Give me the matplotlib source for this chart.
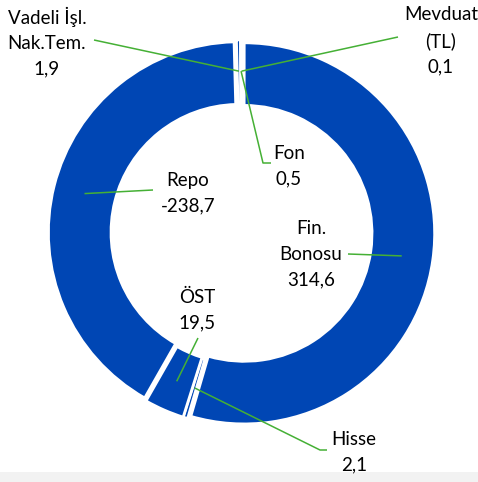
import numpy as np
import matplotlib
matplotlib.use("Agg")
import matplotlib.pyplot as plt
from matplotlib.patches import Rectangle

# ---- data (clockwise from 12 o'clock) ----
categories = ["Mevduat\n(TL)", "Fin.\nBonosu", "Hisse", "ÖST", "Repo", "Vadeli İşl.\nNak.Tem.", "Fon"]
values = [0.1, 314.6, 2.1, 19.5, -238.7, 1.9, 0.5]
value_labels = ["0,1", "314,6", "2,1", "19,5", "-238,7", "1,9", "0,5"]

W, H = 478, 482
plt.rcParams['font.family'] = ['Lato', 'DejaVu Sans']

fig = plt.figure(figsize=(W / 100, H / 100), dpi=100)
ax = fig.add_axes([0, 0, 1, 1])

# gray band at bottom
ax.add_patch(Rectangle((0, 0), W, 10, facecolor='#f2f2f2', edgecolor='none', zorder=0))

cx, cy = 241.5, H - 233
R = 190.5
ring = 0.328
expl = 2.6   # pie explode is in data units (pixels here)
blue = '#0046B4'

sizes = [abs(v) for v in values]
wedges, _ = ax.pie(sizes, startangle=90, counterclock=False, radius=R, center=(cx, cy),
                   colors=[blue] * len(sizes), explode=[expl] * len(sizes),
                   wedgeprops=dict(width=R * ring, edgecolor='white', linewidth=1.9),
                   frame=True)
ax.set_xlim(0, W)
ax.set_ylim(0, H)
ax.set_aspect('equal')
ax.axis('off')

# label positions (pixel coords, y from top) and leader elbows
label_pos = {
    0: (441, 41),
    1: (311, 254),
    2: (354, 452),
    3: (197, 310),
    4: (188, 193),
    5: (47, 42),
    6: (289, 166),
}
line_end = {
    0: [(398, 37)],
    1: [(348, 254)],
    2: [(320, 450), (327, 450)],
    3: [(198, 338)],
    4: [(153, 190)],
    5: [(94, 40)],
    6: [(263, 163), (271, 163)],
}
green = '#45B035'
for i, w in enumerate(wedges):
    th = np.deg2rad((w.theta1 + w.theta2) / 2)
    rmid = R * (1 - ring / 2)
    ax_x = w.center[0] + rmid * np.cos(th)
    ax_y = w.center[1] + rmid * np.sin(th)
    pts = [(ax_x, ax_y)] + [(x, H - y) for (x, y) in line_end[i]]
    xs, ys = zip(*pts)
    ax.plot(xs, ys, color=green, lw=1.1, zorder=5, solid_capstyle='butt')
    lx, ly = label_pos[i]
    ax.text(lx, H - ly, categories[i] + "\n" + value_labels[i], ha='center', va='center',
            fontsize=13.5, linespacing=1.6, color='black', zorder=6)

fig.savefig("out.png", dpi=100)
